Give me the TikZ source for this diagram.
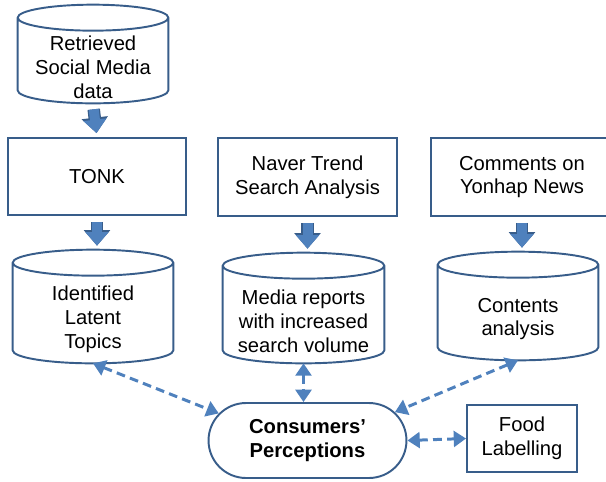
\documentclass[tikz,border=0pt]{standalone}
\usepackage{fontspec}
\setmainfont{Liberation Sans}
\usetikzlibrary{shapes.misc,arrows.meta,positioning,calc}
\definecolor{LineNavy}{HTML}{385D8A}
\definecolor{FlowBlue}{HTML}{4F81BD}

\begin{document}
\begin{tikzpicture}[x=0.02cm, y=-0.02cm,
    txt/.style={font=\fontsize{11.5}{13.6}\selectfont, align=center, text=black},
    box/.style={txt, draw=LineNavy, line width=1.1pt, fill=white, inner sep=2pt},
    store/.style={txt, inner sep=0pt},
    storeline/.style={draw=LineNavy, line width=1.1pt},
    pill/.style={txt, rounded rectangle, draw=LineNavy, line width=1.1pt, fill=white, inner sep=2pt},
    flow/.style={draw=FlowBlue, line width=0.2cm, -{Triangle[length=0.27cm, width=0.45cm]}, shorten <=0.12cm, shorten >=0.08cm,
      preaction={draw=LineNavy, line width=0.25cm, -{Triangle[length=0.31cm, width=0.51cm]}}},
    link/.style={draw=FlowBlue, line width=1.7pt, dash pattern=on 5pt off 3pt, {Triangle[length=7pt, width=9pt]}-{Triangle[length=7pt, width=9pt]}}
  ]
    \useasboundingbox (0,0) rectangle (606,481);

    % Row 1: source data and the three methods
    \node[store, minimum width=3cm, minimum height=1.44cm] (src) at (93,67) {Retrieved\\Social Media\\data};
    \node[box, minimum width=3.56cm, minimum height=1.54cm] (tonk) at (97,176.5) {TONK};
    \node[box, minimum width=3.58cm, minimum height=1.56cm] (naver) at (307.5,177) {Naver Trend\\Search Analysis};
    \node[box, minimum width=3.64cm, minimum height=1.56cm] (yonhap) at (522,177) {Comments on\\Yonhap News};

    % Row 2: results
    \node[store, minimum width=3.2cm, minimum height=1.74cm] (topics) at (93,319.5) {Identified\\Latent\\Topics};
    \node[store, minimum width=3.22cm, minimum height=1.68cm] (media) at (303.5,321) {Media reports\\with increased\\search volume};
    \node[store, minimum width=3.2cm, minimum height=1.64cm] (contents) at (518,319) {Contents\\analysis};

    % Cylinder outlines: cap above the text, half ellipse below it
    \foreach \s in {src,topics,media,contents}
      \draw[storeline] let \p1=($(\s.east)-(\s.center)$) in
        ([yshift=0.26cm]\s.north) ellipse [x radius=\x1, y radius=0.26cm]
        ([yshift=0.26cm]\s.north west) -- ([yshift=0.26cm]\s.south west)
        arc [start angle=180, end angle=360, x radius=\x1, y radius=0.26cm]
        -- ([yshift=0.26cm]\s.north east);

    % Row 3: perceptions and labelling
    \node[pill, minimum width=4.1cm, minimum height=1.5cm, font=\bfseries\fontsize{11.5}{13.6}\selectfont] (percep) at (307.5,440.5) {Consumers’\\Perceptions};
    \node[box, minimum width=2.2cm, minimum height=1.34cm] (food) at (522,438.5) {Food\\Labelling};

    % Block arrows
    \draw[flow] (src.south) -- (tonk.north);
    \draw[flow] (tonk.south) -- ([yshift=0.52cm]tonk.south |- topics.north);
    \draw[flow] (naver.south) -- ([yshift=0.52cm]naver.south |- media.north);
    \draw[flow] (yonhap.south) -- ([yshift=0.52cm]yonhap.south |- contents.north);

    % Dashed links
    \draw[link] (topics.south) -- (percep.163);
    \draw[link] (media.south) -- (media.south |- percep.north);
    \draw[link] (contents.south) -- (percep.18);
    \draw[link] (percep.east) -- (food.west);
  \end{tikzpicture}
\end{document}
